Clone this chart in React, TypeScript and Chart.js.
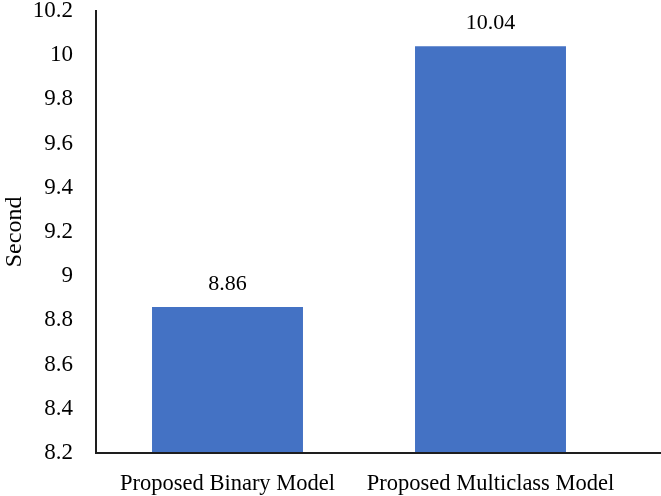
import React, { useEffect, useRef } from "react";
import { Chart, registerables } from "chart.js";

Chart.register(...registerables);

const categories: string[] = ["Proposed Binary Model", "Proposed Multiclass Model"];
const seconds: number[] = [8.86, 10.04];
const valueLabels: string[] = ["8.86", "10.04"];
const yMin = 8.2;
const yMax = 10.2;
const yStep = 0.2;
const yTitle = "Second";

const FONT = "'Liberation Serif', 'Times New Roman', serif";
const SHIFT = 26;

const dataLabelPlugin = {
  id: "dataLabels",
  afterDatasetsDraw(chart: any) {
    const ctx = chart.ctx;
    const meta = chart.getDatasetMeta(0);
    ctx.save();
    ctx.fillStyle = "#000";
    ctx.font = `22px ${FONT}`;
    ctx.textAlign = "center";
    ctx.textBaseline = "alphabetic";
    meta.data.forEach((bar: any, i: number) => {
      ctx.fillText(valueLabels[i], bar.x, bar.y - 17);
    });
    ctx.restore();
  },
};

const xAxisLinePlugin = {
  id: "xAxisLine",
  afterDraw(chart: any) {
    const ctx = chart.ctx;
    const { left, bottom } = chart.chartArea;
    ctx.save();
    ctx.strokeStyle = "#1e1e1e";
    ctx.lineWidth = 2;
    ctx.beginPath();
    ctx.moveTo(left - 1, bottom);
    ctx.lineTo(chart.width, bottom);
    ctx.stroke();
    ctx.restore();
  },
};

export default function App() {
  const ref = useRef<HTMLCanvasElement | null>(null);

  useEffect(() => {
    if (!ref.current) return;
    const chart = new Chart(ref.current, {
      type: "bar",
      data: {
        labels: categories,
        datasets: [
          {
            data: seconds,
            backgroundColor: "#4472C4",
            borderWidth: 0,
            barPercentage: 0.574,
            categoryPercentage: 1,
          },
        ],
      },
      options: {
        animation: false,
        responsive: false,
        devicePixelRatio: 1,
        layout: { padding: { left: 0, right: 39, top: 0, bottom: 0 } },
        plugins: {
          legend: { display: false },
          tooltip: { enabled: false },
        },
        scales: {
          x: {
            grid: { display: false, drawTicks: false },
            border: { display: false },
            ticks: {
              color: "#000",
              font: { family: FONT, size: 22.5 },
              padding: 18,
              maxRotation: 0,
              autoSkip: false,
            },
            afterFit(scale: any) {
              scale.height = 43;
            },
          },
          y: {
            min: yMin,
            max: yMax,
            grid: { display: false, drawTicks: false },
            border: { display: true, color: "#1e1e1e", width: 2 },
            ticks: {
              stepSize: yStep,
              color: "#000",
              font: { family: FONT, size: 23 },
              padding: 23,
              callback: (v: any) => String(Math.round(Number(v) * 10) / 10),
            },
            title: {
              display: true,
              text: yTitle,
              color: "#000",
              font: { family: FONT, size: 24 },
              padding: 0,
            },
            afterFit(scale: any) {
              scale.width = 96;
            },
          },
        },
      },
      plugins: [dataLabelPlugin, xAxisLinePlugin],
    });
    return () => chart.destroy();
  }, []);

  return (
    <div
      style={{
        position: "fixed",
        top: 0,
        left: 0,
        width: 661,
        height: 496,
        overflow: "hidden",
        background: "#fff",
      }}
    >
      <canvas
        ref={ref}
        width={661}
        height={496 + SHIFT}
        style={{ position: "absolute", top: -SHIFT, left: 0, width: 661, height: 496 + SHIFT }}
      />
    </div>
  );
}
